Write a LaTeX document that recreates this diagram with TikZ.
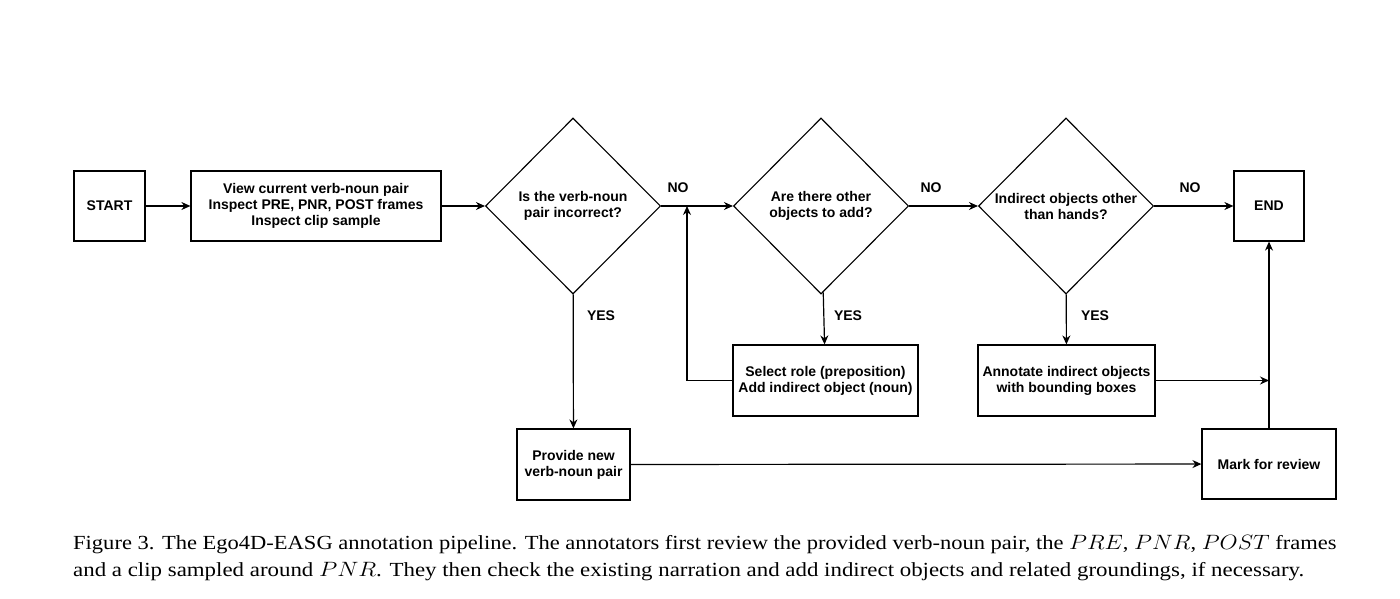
\documentclass[tikz,border=0pt]{standalone}
\usepackage{graphicx}
\usepackage{fontspec}
\setmainfont{Liberation Serif}
\newfontfamily\boxfont{Liberation Sans}
\usetikzlibrary{shapes.geometric,arrows.meta}
\tikzset{
  boxtext/.style={font=\boxfont\bfseries\fontsize{14}{16}\selectfont},
  box/.style={draw=black, line width=1.2pt, fill=white, rectangle, inner sep=0pt, align=center, boxtext},
  decision/.style={draw=black, line width=1.1pt, fill=white, diamond, inner sep=0pt, minimum width=175pt, minimum height=176pt, align=center, boxtext},
  lbl/.style={boxtext, inner sep=0pt},
  conn/.style={draw=black, line width=1.2pt, -{Stealth[length=9pt,width=8pt]}},
  captext/.style={anchor=base west, inner sep=0pt, font=\fontsize{20}{25}\selectfont}
}
\begin{document}
\begin{tikzpicture}[x=1pt,y=-1pt]
\useasboundingbox[fill=white] (0,0) rectangle (1400,599);
% nodes
\node[box, minimum width=71pt, minimum height=70pt] (start) at (109.5,206) {START};
\node[box, minimum width=250pt, minimum height=70pt] (view) at (316,206) {View current verb-noun pair\\Inspect PRE, PNR, POST frames\\Inspect clip sample};
\node[decision] (d1) at (573,206) {Is the verb-noun\\pair incorrect?};
\node[decision] (d2) at (821,206) {Are there other\\objects to add?};
\node[decision] (d3) at (1066,206) {Indirect objects other\\than hands?};
\node[box, minimum width=70pt, minimum height=70pt] (end) at (1269,206) {END};
\node[box, minimum width=185pt, minimum height=71pt] (sel) at (825.5,380.5) {Select role (preposition)\\Add indirect object (noun)};
\node[box, minimum width=177pt, minimum height=71pt] (ann) at (1066.5,380.5) {Annotate indirect objects\\with bounding boxes};
\node[box, minimum width=113pt, minimum height=71pt] (prov) at (573.5,464.5) {Provide new\\verb-noun pair};
\node[box, minimum width=134pt, minimum height=70pt] (mark) at (1269,464) {Mark for review};
% labels
\node[lbl] (no1) at (678,188) {NO};
\node[lbl] (no2) at (931,188) {NO};
\node[lbl] (no3) at (1190,188) {NO};
\node[lbl] (yes1) at (601,316) {YES};
\node[lbl] (yes2) at (848,316) {YES};
\node[lbl] (yes3) at (1095,316) {YES};
% join points
\coordinate (j1) at (687,206);
\coordinate (j2) at (1269,380.5);
% connectors
\draw[conn] (start) -- (view);
\draw[conn] (view) -- (d1);
\draw[conn] (d1) -- (d2);
\draw[conn] (d2) -- (d3);
\draw[conn] (d3) -- (end);
\draw[conn] (d1) -- (prov);
\draw[conn] (d2) -- (sel);
\draw[conn] (d3) -- (ann);
\draw[conn] (sel.west) -| (j1);
\draw[conn] (ann.east) -- (j2);
\draw[conn] (mark) -- (end);
\draw[conn] (prov) -- (mark);
% caption
\node[captext] (cap1) at (73,549) {\scalebox{1.126}[1]{Figure 3. The Ego4D-EASG annotation pipeline. The annotators first review the provided verb-noun pair, the $PRE$, $PNR$, $POST$ frames}};
\node[captext] (cap2) at (73,576) {\scalebox{1.144}[1]{and a clip sampled around $PNR$. They then check the existing narration and add indirect objects and related groundings, if necessary.}};
\end{tikzpicture}
\end{document}
